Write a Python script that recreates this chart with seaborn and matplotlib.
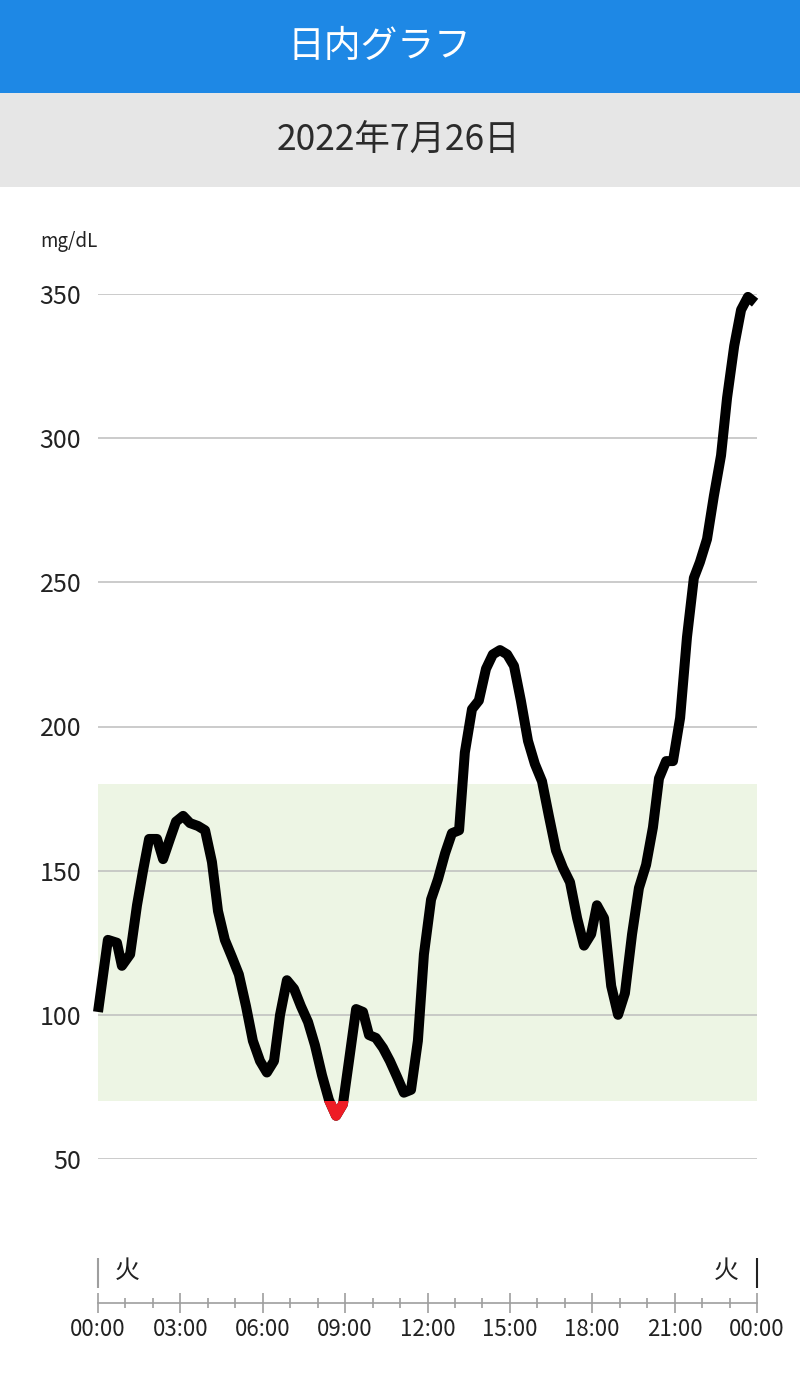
import numpy as np
import pandas as pd
import matplotlib
matplotlib.use("Agg")
import matplotlib.pyplot as plt
from matplotlib.patches import Rectangle
import seaborn as sns

# Données (heure décimale, glycémie en mg/dL)
hours = [0.00, 0.36, 0.69, 0.87, 1.17, 1.42, 1.64, 1.86, 2.15, 2.37,
         2.62, 2.84, 3.10, 3.35, 3.64, 3.90, 4.15, 4.37, 4.62, 4.88,
         5.13, 5.39, 5.64, 5.90, 6.15, 6.41, 6.63, 6.88, 7.14, 7.39,
         7.65, 7.90, 8.16, 8.41, 8.67, 8.92, 9.14, 9.40, 9.65, 9.87,
         10.12, 10.38, 10.63, 10.89, 11.14, 11.40, 11.65, 11.87, 12.13, 12.38,
         12.64, 12.89, 13.15, 13.36, 13.62, 13.87, 14.13, 14.38, 14.64, 14.90,
         15.15, 15.40, 15.66, 15.91, 16.17, 16.42, 16.68, 16.93, 17.19, 17.45,
         17.70, 17.96, 18.17, 18.43, 18.69, 18.94, 19.19, 19.45, 19.70, 19.96,
         20.21, 20.43, 20.69, 20.94, 21.20, 21.45, 21.70, 21.92, 22.18, 22.43,
         22.69, 22.91, 23.17, 23.42, 23.67, 23.93]
glucose = [101, 126, 125, 117, 121, 138, 150, 161, 161, 154,
           161, 167, 169, 166.5, 165.5, 164, 153, 136, 126, 120,
           114, 103, 91, 84, 80, 84, 100, 112, 109, 103,
           97.5, 89.5, 79, 70.5, 65, 69, 84, 102, 101, 93,
           92, 88.5, 84, 78.5, 73, 74, 91, 121, 140, 147,
           156, 163, 164, 191, 206, 209, 220, 225, 226.5, 225,
           221, 209, 195, 187, 181, 169, 157, 151, 146, 133.5,
           124, 128, 138, 133.5, 110, 100, 107.5, 128, 144, 152,
           165, 182, 188, 188, 203, 231, 251.5, 257, 265, 280,
           294, 314, 332, 344.5, 349, 347]

y_ticks = [50, 100, 150, 200, 250, 300, 350]
x_major = [0, 3, 6, 9, 12, 15, 18, 21, 24]
x_labels = ["00:00", "03:00", "06:00", "09:00", "12:00", "15:00", "18:00", "21:00", "00:00"]
target_low, target_high = 70, 180
title = "日内グラフ"
date_label = "2022年7月26日"
weekday = "火"

df = pd.DataFrame({"heure": hours, "glycemie": glucose})

sns.set_theme(style="white")
plt.rcParams["font.family"] = ["Noto Sans CJK JP", "DejaVu Sans"]

W, H = 800, 1378
fig = plt.figure(figsize=(W / 100, H / 100), dpi=100)
fig.patch.set_facecolor("white")


def fy(px):
    return 1 - px / H


# Bandeaux du haut
fig.add_artist(Rectangle((0, fy(93)), 1, 93 / H, transform=fig.transFigure,
                         facecolor="#1E88E5", edgecolor="none"))
fig.add_artist(Rectangle((0, fy(187)), 1, 94 / H, transform=fig.transFigure,
                         facecolor="#E6E6E6", edgecolor="none"))
fig.text(0.474, fy(46), title, color="white", fontsize=26.5, ha="center", va="center")
fig.text(0.498, fy(141), date_label, color="#2b2b2b", fontsize=25.5, ha="center", va="center")
fig.text(40 / W, fy(242), "mg/dL", color="#222222", fontsize=13.5, ha="left", va="center")

### Graphique principal ###
ax = fig.add_axes([98 / W, fy(1159), 659 / W, 865 / H])
ax.axhspan(target_low, target_high, color="#EDF5E4", zorder=0, lw=0)
for t in y_ticks:
    ax.axhline(t, color="#BDBDBD", lw=1.1, zorder=1)

sns.lineplot(data=df, x="heure", y="glycemie", ax=ax, color="black", lw=7.2,
             solid_joinstyle="round", solid_capstyle="butt", zorder=3)
ax.lines[-1].set_clip_on(False)

# Partie sous la cible en rouge
sns.lineplot(data=df, x="heure", y="glycemie", ax=ax, color="#EE1C25", lw=7.2,
             solid_joinstyle="round", solid_capstyle="butt", zorder=4)
clip = Rectangle((0, 0), 24, target_low, transform=ax.transData)
ax.lines[-1].set_clip_path(clip)

ax.set_xlim(0, 24)
ax.set_ylim(50, 350)
ax.set_yticks(y_ticks)
ax.set_yticklabels([str(v) for v in y_ticks], fontsize=18, color="#222222")
ax.tick_params(axis="y", length=0, pad=12)
ax.set_xticks([])
ax.set_xlabel("")
ax.set_ylabel("")
for s in ax.spines.values():
    s.set_visible(False)
ax.set_facecolor("none")

### Axe du temps ###
ax2 = fig.add_axes([98 / W, fy(1303), 659 / W, 53 / H])
ax2.set_xlim(0, 24)
ax2.set_ylim(0, 1)
for side in ["top", "left", "right"]:
    ax2.spines[side].set_visible(False)
ax2.spines["bottom"].set_color("#9E9E9E")
ax2.spines["bottom"].set_linewidth(1.2)
ax2.set_yticks([])
ax2.set_xticks(x_major)
ax2.set_xticklabels(x_labels, fontsize=16, color="#222222")
ax2.set_xticks(range(25), minor=True)
ax2.tick_params(axis="x", which="both", bottom=True)
ax2.tick_params(axis="x", which="major", direction="inout", length=15, width=1.2,
                color="#9E9E9E", pad=3)
ax2.tick_params(axis="x", which="minor", direction="inout", length=7.5, width=1.2,
                color="#9E9E9E")
ax2.set_facecolor("none")

ax2.vlines(0, 0.283, 0.849, color="#9E9E9E", lw=1.5, clip_on=False)
ax2.vlines(24, 0.283, 0.849, color="#222222", lw=1.5, clip_on=False)
ax2.text(1.07, 0.60, weekday, fontsize=18, ha="center", va="center", color="#222222")
ax2.text(22.89, 0.60, weekday, fontsize=18, ha="center", va="center", color="#222222")

fig.savefig("out.png", dpi=100)
